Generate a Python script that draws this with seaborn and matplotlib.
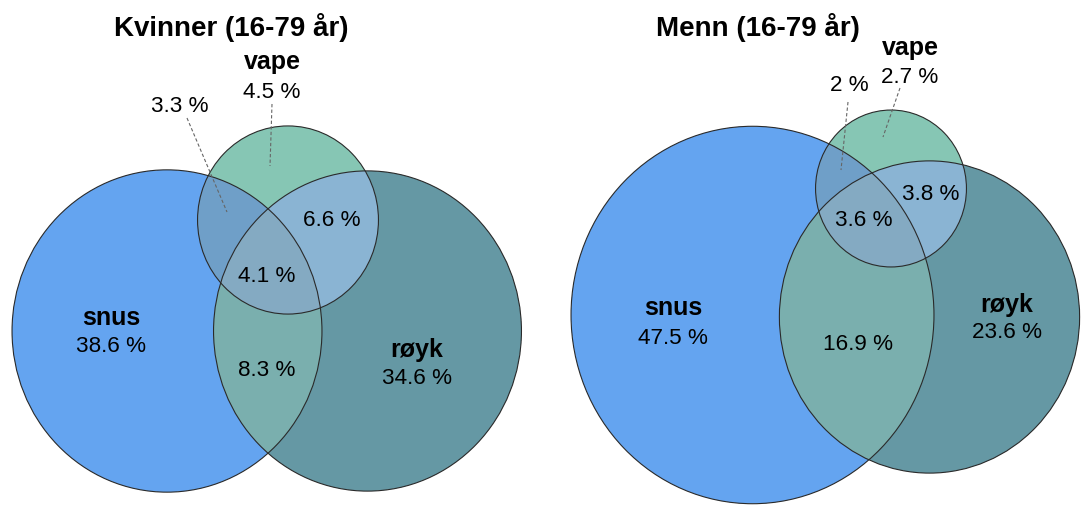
import numpy as np
import matplotlib
matplotlib.use("Agg")
import matplotlib.pyplot as plt
from matplotlib.patches import Ellipse
import seaborn as sns

# Venn data: share of users (%) in each region
sets = ["snus", "vape", "røyk"]
regions = ["snus", "vape", "røyk", "snus+vape", "snus+røyk", "vape+røyk", "alle"]
region_codes = [1, 2, 4, 3, 5, 6, 7]   # bit 1 = snus, 2 = vape, 4 = røyk
kvinner = [38.6, 4.5, 34.6, 3.3, 8.3, 6.6, 4.1]
menn = [47.5, 2.7, 23.6, 2.0, 16.9, 3.8, 3.6]
titles = ["Kvinner (16-79 år)", "Menn (16-79 år)"]

region_colors = sns.color_palette(["#64A4F0", "#86C6B4", "#6698A4", "#6F9FC8",
                                   "#7BAFAE", "#8AB4D4", "#84AAC2"])

# layout (pixel coordinates) for each panel
layouts = [
    dict(scale=21.03, centers={"snus": (167, 332), "vape": (288, 221), "røyk": (367.5, 332)},
         title=(231, 27),
         set_labels={"vape": (272, 62), "snus": (111, 318), "røyk": (417, 350)},
         values={"snus": (111, 347), "vape": (272, 92), "røyk": (417, 378),
                 "snus+vape": (180, 106), "snus+røyk": (267, 370),
                 "vape+røyk": (332, 220), "alle": (267, 276)},
         leaders={"snus+vape": ((187, 119), (227, 213)), "vape": ((272, 105), (270, 167))}),
    dict(scale=21.69, centers={"snus": (752.5, 316), "vape": (891, 189.5), "røyk": (929.5, 318)},
         title=(758, 27),
         set_labels={"vape": (910, 48), "snus": (673, 308), "røyk": (1007, 305)},
         values={"snus": (673, 338), "vape": (910, 77), "røyk": (1007, 333),
                 "snus+vape": (849, 85), "snus+røyk": (858, 344),
                 "vape+røyk": (931, 194), "alle": (864, 220)},
         leaders={"snus+vape": ((848, 103), (841, 171)), "vape": ((900, 89), (883, 138))}),
]
stretch = 1.04
W, H = 1091, 506

sns.set_theme(style="white")
plt.rcParams["font.family"] = ["Liberation Sans", "DejaVu Sans"]

fig = plt.figure(figsize=(W / 100, H / 100), dpi=100)
ax = fig.add_axes([0, 0, 1, 1])
ax.set_xlim(0, W)
ax.set_ylim(H, 0)
ax.axis("off")

# supersampled grid for region colouring
ss = 3
xs = (np.arange(W * ss) + 0.5) / ss
ys = (np.arange(H * ss) + 0.5) / ss
X, Y = np.meshgrid(xs, ys)
img = np.ones((H * ss, W * ss, 3))

panels = [kvinner, menn]
for values, lay in zip(panels, layouts):
    radii = {}
    for bit, s in enumerate(sets):
        total = sum(v for v, c in zip(values, region_codes) if c & (1 << bit))
        radii[s] = np.sqrt(total) * lay["scale"]
    code = np.zeros(X.shape, dtype=int)
    for bit, s in enumerate(sets):
        cx, cy = lay["centers"][s]
        rx = radii[s]
        ry = rx * stretch
        inside = ((X - cx) / rx) ** 2 + ((Y - cy) / ry) ** 2 <= 1
        code |= inside.astype(int) << bit
    for c, col in zip(region_codes, region_colors):
        img[code == c] = col
    lay["radii"] = radii

img = img.reshape(H, ss, W, ss, 3).mean(axis=(1, 3))
ax.imshow(img, extent=(0, W, H, 0), interpolation="nearest", zorder=1)
ax.set_xlim(0, W)
ax.set_ylim(H, 0)

for values, lay, title in zip(panels, layouts, titles):
    for s in sets:
        rx = lay["radii"][s]
        ax.add_patch(Ellipse(lay["centers"][s], 2 * rx, 2 * rx * stretch, fill=False,
                             ec="#2a2a2a", lw=0.8, zorder=2))
    for name, ((x0, y0), (x1, y1)) in lay["leaders"].items():
        ax.plot([x0, x1], [y0, y1], color="#666666", lw=0.8, ls=(0, (3, 2)), zorder=3)
    ax.text(*lay["title"], title, ha="center", va="center", fontsize=20,
            fontweight="bold", color="black", zorder=4)
    for s, pos in lay["set_labels"].items():
        ax.text(*pos, s, ha="center", va="center", fontsize=18,
                fontweight="bold", color="black", zorder=4)
    for r, v in zip(regions, values):
        ax.text(*lay["values"][r], f"{v:g} %", ha="center", va="center",
                fontsize=16.2, color="black", zorder=4)

fig.savefig("out.png", dpi=100)
